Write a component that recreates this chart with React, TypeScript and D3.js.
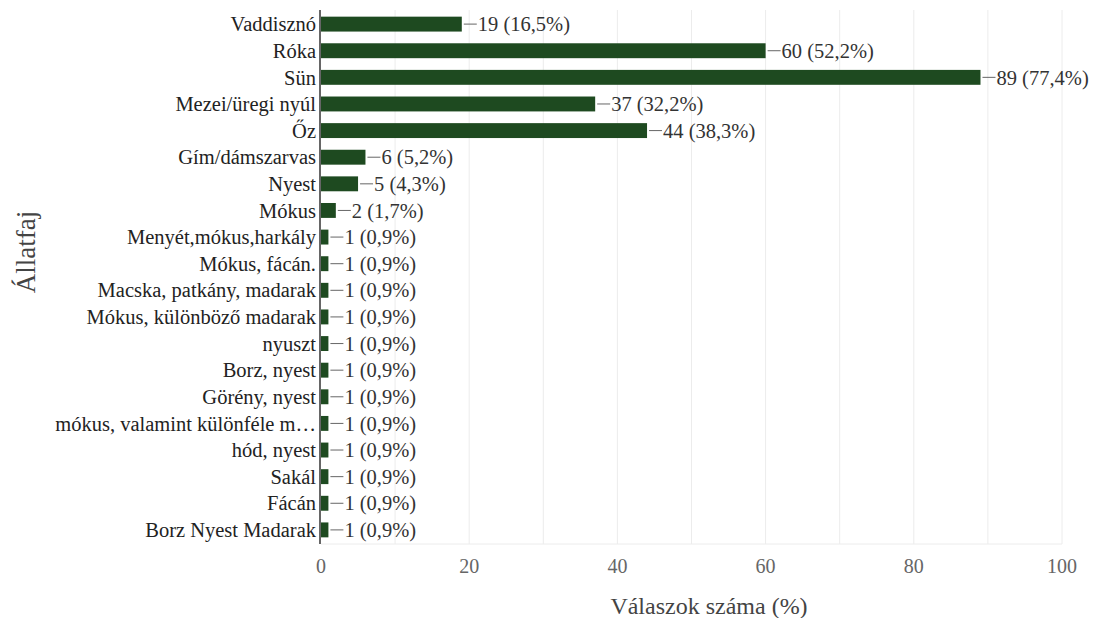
import React from "react";
import * as d3 from "d3";

const categories = [
  "Vaddisznó",
  "Róka",
  "Sün",
  "Mezei/üregi nyúl",
  "Őz",
  "Gím/dámszarvas",
  "Nyest",
  "Mókus",
  "Menyét,mókus,harkály",
  "Mókus, fácán.",
  "Macska, patkány, madarak",
  "Mókus, különböző madarak",
  "nyuszt",
  "Borz, nyest",
  "Görény, nyest",
  "mókus, valamint különféle m…",
  "hód, nyest",
  "Sakál",
  "Fácán",
  "Borz Nyest Madarak",
];
const counts = [19, 60, 89, 37, 44, 6, 5, 2, 1, 1, 1, 1, 1, 1, 1, 1, 1, 1, 1, 1];
const percents = ["16,5", "52,2", "77,4", "32,2", "38,3", "5,2", "4,3", "1,7", "0,9", "0,9", "0,9", "0,9", "0,9", "0,9", "0,9", "0,9", "0,9", "0,9", "0,9", "0,9"];
const xTicks = [0, 20, 40, 60, 80, 100];
const gridTicks = [10, 20, 30, 40, 50, 60, 70, 80, 90, 100];

const W = 1093;
const H = 618;
const M = { left: 321, right: 31, top: 10, bottom: 74 };
const FONT = "Liberation Serif, DejaVu Serif, serif";

export default function App() {
  const x = d3.scaleLinear().domain([0, 100]).range([M.left, W - M.right]);
  const y = d3
    .scaleBand<string>()
    .domain(categories)
    .range([M.top, H - M.bottom])
    .paddingInner(0.44)
    .paddingOuter(0.25);
  const barColor = "#1e4a20";
  return (
    <svg width={W} height={H} style={{ position: "absolute", left: 0, top: 0, background: "#fff", fontFamily: FONT }}>
      {gridTicks.map((t) => (
        <line key={"g" + t} x1={x(t)} x2={x(t)} y1={M.top} y2={H - M.bottom} stroke="#ececec" strokeWidth={1} />
      ))}
      <line x1={M.left} x2={x(100)} y1={H - M.bottom} y2={H - M.bottom} stroke="#ececec" strokeWidth={1} />
      {categories.map((c, i) => {
        const yy = y(c)!;
        const bw = y.bandwidth();
        const xe = x(counts[i]);
        const cy = yy + bw / 2;
        return (
          <g key={c}>
            <rect x={x(0)} y={yy} width={xe - x(0)} height={bw} fill={barColor} />
            <line x1={xe + 2} x2={xe + 15} y1={cy} y2={cy} stroke="#666" strokeWidth={1} />
            <text x={xe + 16} y={cy} dy="0.35em" style={{ fontFamily: FONT, fontSize: 20.5 }} fill="#333">
              {`${counts[i]} (${percents[i]}%)`}
            </text>
            <text x={M.left - 5} y={cy} dy="0.35em" textAnchor="end" style={{ fontFamily: FONT, fontSize: 20.5 }} fill="#222">
              {c}
            </text>
          </g>
        );
      })}
      <line x1={M.left - 1} x2={M.left - 1} y1={M.top} y2={H - M.bottom} stroke="#333" strokeWidth={1.5} />
      {xTicks.map((t) => (
        <text key={"t" + t} x={x(t)} y={566} dy="0.35em" textAnchor="middle" style={{ fontFamily: FONT, fontSize: 20 }} fill="#666">
          {t}
        </text>
      ))}
      <text x={709} y={606} dy="0.35em" textAnchor="middle" style={{ fontFamily: FONT, fontSize: 24 }} fill="#444">
        Válaszok száma (%)
      </text>
      <text
        transform={`translate(26,252) rotate(-90)`}
        textAnchor="middle"
        dy="0.35em"
        style={{ fontFamily: FONT, fontSize: 27 }}
        fill="#444"
      >
        Állatfaj
      </text>
    </svg>
  );
}
